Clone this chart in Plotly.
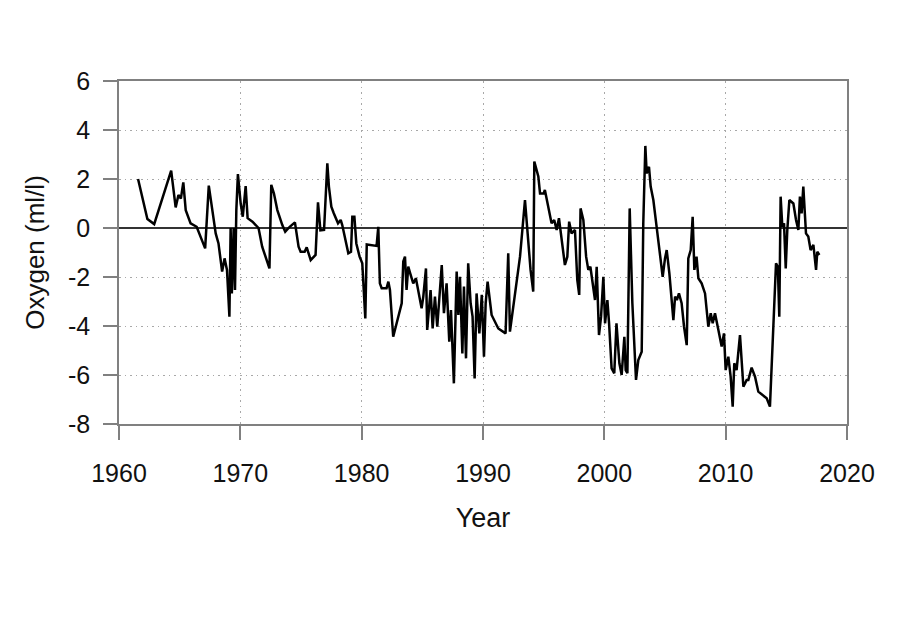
import plotly.graph_objects as go

years = [1961.57, 1962.34, 1962.9, 1964.3, 1964.67, 1964.9, 1965.1, 1965.3, 1965.5, 1965.9,
         1966.4, 1967.1, 1967.4, 1967.97, 1968.2, 1968.5, 1968.7, 1968.9, 1969.1, 1969.2,
         1969.3, 1969.45, 1969.56, 1969.67, 1969.8, 1970.03, 1970.2, 1970.44, 1970.6, 1971.0,
         1971.5, 1971.8, 1972.4, 1972.55, 1972.77, 1973.05, 1973.46, 1973.7, 1974.07, 1974.5,
         1974.8, 1974.97, 1975.3, 1975.47, 1975.8, 1976.2, 1976.4, 1976.6, 1976.9, 1977.17,
         1977.3, 1977.5, 1977.7, 1978.05, 1978.27, 1978.4, 1978.9, 1979.12, 1979.23, 1979.4,
         1979.56, 1979.83, 1980.05, 1980.3, 1980.42,
         1981.23, 1981.37, 1981.5, 1981.65, 1982.05, 1982.2, 1982.33, 1982.6, 1983.3, 1983.43,
         1983.57, 1983.7, 1983.84, 1984.0, 1984.25, 1984.47, 1984.8, 1984.94, 1985.08, 1985.3,
         1985.4, 1985.57, 1985.68, 1985.85, 1986.04, 1986.23, 1986.6, 1986.78, 1987.0, 1987.22,
         1987.36, 1987.6, 1987.83, 1987.97, 1988.1, 1988.3, 1988.43, 1988.6, 1988.78, 1988.98,
         1989.14, 1989.31, 1989.47, 1989.7, 1989.9, 1990.08, 1990.22, 1990.38, 1990.71, 1991.26,
         1991.86, 1992.08, 1992.22, 1993.05, 1993.46, 1993.92, 1994.14, 1994.23, 1994.56, 1994.7,
         1995.0, 1995.1, 1995.38, 1995.65, 1995.87, 1996.07, 1996.26, 1996.4, 1996.75, 1996.95,
         1997.1, 1997.3, 1997.58, 1997.77, 1997.93, 1998.04, 1998.27, 1998.5, 1998.68, 1998.85,
         1999.04, 1999.23, 1999.37, 1999.56, 1999.73, 1999.92, 2000.06, 2000.25, 2000.39, 2000.6,
         2000.82, 2001.0, 2001.24, 2001.43, 2001.65, 2001.76, 2001.9, 2002.09, 2002.31, 2002.61,
         2002.8, 2003.08, 2003.21, 2003.38, 2003.49, 2003.68, 2003.82, 2004.04, 2004.31, 2004.59,
         2004.81, 2005.0, 2005.14, 2005.36, 2005.55, 2005.69, 2005.83, 2005.98, 2006.15, 2006.37,
         2006.57, 2006.79, 2006.92, 2007.12, 2007.28, 2007.42, 2007.6, 2007.75, 2008.02, 2008.3,
         2008.57, 2008.77, 2008.93, 2009.12, 2009.4, 2009.67, 2009.86, 2010.0, 2010.22, 2010.41,
         2010.58, 2010.71, 2010.9, 2011.18, 2011.46, 2011.73, 2011.87, 2012.14, 2012.42, 2012.69,
         2013.38, 2013.65, 2014.15, 2014.3, 2014.42, 2014.53, 2014.67, 2014.81, 2014.95, 2015.08,
         2015.25, 2015.58, 2015.8, 2015.99, 2016.12, 2016.26, 2016.4, 2016.62, 2016.81, 2017.0,
         2017.23, 2017.45, 2017.55, 2017.72]

oxygen = [2.0, 0.37, 0.16, 2.34, 0.84, 1.35, 1.2, 1.86, 0.73, 0.19,
          0.05, -0.83, 1.73, -0.22, -0.63, -1.78, -1.24, -1.71, -3.62, 0.0,
          -2.67, 0.0, -2.53, 0.73, 2.2, 1.0, 0.46, 1.71, 0.4, 0.26,
          0.0, -0.76, -1.65, 1.76, 1.41, 0.73, 0.12, -0.15, 0.05, 0.23,
          -0.76, -0.97, -0.97, -0.79, -1.31, -1.1, 1.05, -0.1, -0.08, 2.64,
          1.69, 0.87, 0.6, 0.19, 0.33, 0.12, -1.03, -0.97, 0.46, 0.46,
          -0.63, -1.17, -1.44, -3.69, -0.67,
          -0.73, 0.05, -2.26, -2.46, -2.46, -2.19, -2.53, -4.44, -3.07, -1.37,
          -1.17, -2.53, -1.58, -1.85, -2.26, -2.05, -2.94, -3.28, -2.8, -1.65,
          -4.16, -2.94, -2.53, -4.1, -2.8, -4.03, -1.51, -3.48, -2.26, -4.64,
          -3.35, -6.34, -1.78, -3.55, -1.99, -5.12, -2.39, -5.32, -1.44, -3.07,
          -3.62, -6.14, -2.67, -4.3, -2.73, -5.25, -3.07, -2.19, -3.55, -4.1,
          -4.3, -1.03, -4.23, -1.17, 1.14, -1.71, -2.6, 2.71, 2.1, 1.41,
          1.41, 1.55, 0.87, 0.19, 0.33, -0.08, 0.4, -0.22, -1.51, -1.17,
          0.26, -0.22, -0.08, -2.12, -2.73, 0.8, 0.33, -1.17, -1.71, -1.58,
          -2.33, -2.94, -1.58, -4.37, -3.62, -1.99, -3.89, -2.94, -3.89, -5.73,
          -5.93, -3.89, -5.52, -6.0, -4.44, -5.8, -5.93, 0.8, -3.07, -6.2,
          -5.39, -5.05, 0.19, 3.35, 2.23, 2.5, 1.69, 1.14, 0.05, -1.1,
          -1.99, -1.24, -0.9, -1.85, -2.94, -3.76, -2.8, -2.94, -2.67, -3.07,
          -4.03, -4.78, -1.24, -0.9, 0.46, -1.71, -1.17, -2.05, -2.26, -2.67,
          -4.03, -3.48, -3.89, -3.48, -4.16, -4.84, -4.3, -5.8, -5.25, -6.07,
          -7.29, -5.52, -5.8, -4.37, -6.48, -6.2, -6.2, -5.7, -6.07, -6.68,
          -6.95, -7.29, -1.44, -1.58, -3.62, 1.28, 0.05, 0.19, -1.65, -0.08,
          1.14, 1.0, 0.33, -0.08, 1.28, 0.6, 1.69, -0.22, -0.35, -0.9,
          -0.69, -1.71, -0.97, -1.1]

x_ticks = [1960, 1970, 1980, 1990, 2000, 2010, 2020]
y_ticks = [-8, -6, -4, -2, 0, 2, 4, 6]

fig = go.Figure()
fig.add_trace(go.Scatter(x=years, y=oxygen, mode="lines",
                         line=dict(color="black", width=2.5), showlegend=False))

axis_common = dict(
    showline=True, linecolor="#808080", linewidth=1.5, mirror=True,
    ticks="outside", ticklen=14, tickcolor="#808080", tickwidth=1.5,
    showgrid=True, gridcolor="#a8a8a8", griddash="1.5px,4px", gridwidth=1.3,
    tickfont=dict(family="Liberation Sans, Arial", size=25, color="#111111"),
)

fig.update_layout(
    width=911, height=624,
    margin=dict(l=119, r=64, t=81, b=200),
    paper_bgcolor="white", plot_bgcolor="white",
    font=dict(family="Liberation Sans, Arial", size=25, color="#111111"),
    xaxis=dict(range=[1960, 2020], tickvals=x_ticks, ticktext=[str(v) for v in x_ticks],
               zeroline=False, ticklabelstandoff=12,
               title=dict(text="Year", font=dict(size=27), standoff=22), **axis_common),
    yaxis=dict(range=[-8, 6], tickvals=y_ticks, ticktext=[str(v) for v in y_ticks],
               zeroline=True, zerolinecolor="#333333", zerolinewidth=1.5,
               ticklabelstandoff=8,
               title=dict(text="Oxygen (ml/l)", font=dict(size=26), standoff=16), **axis_common),
)

fig.write_html("out.html")
